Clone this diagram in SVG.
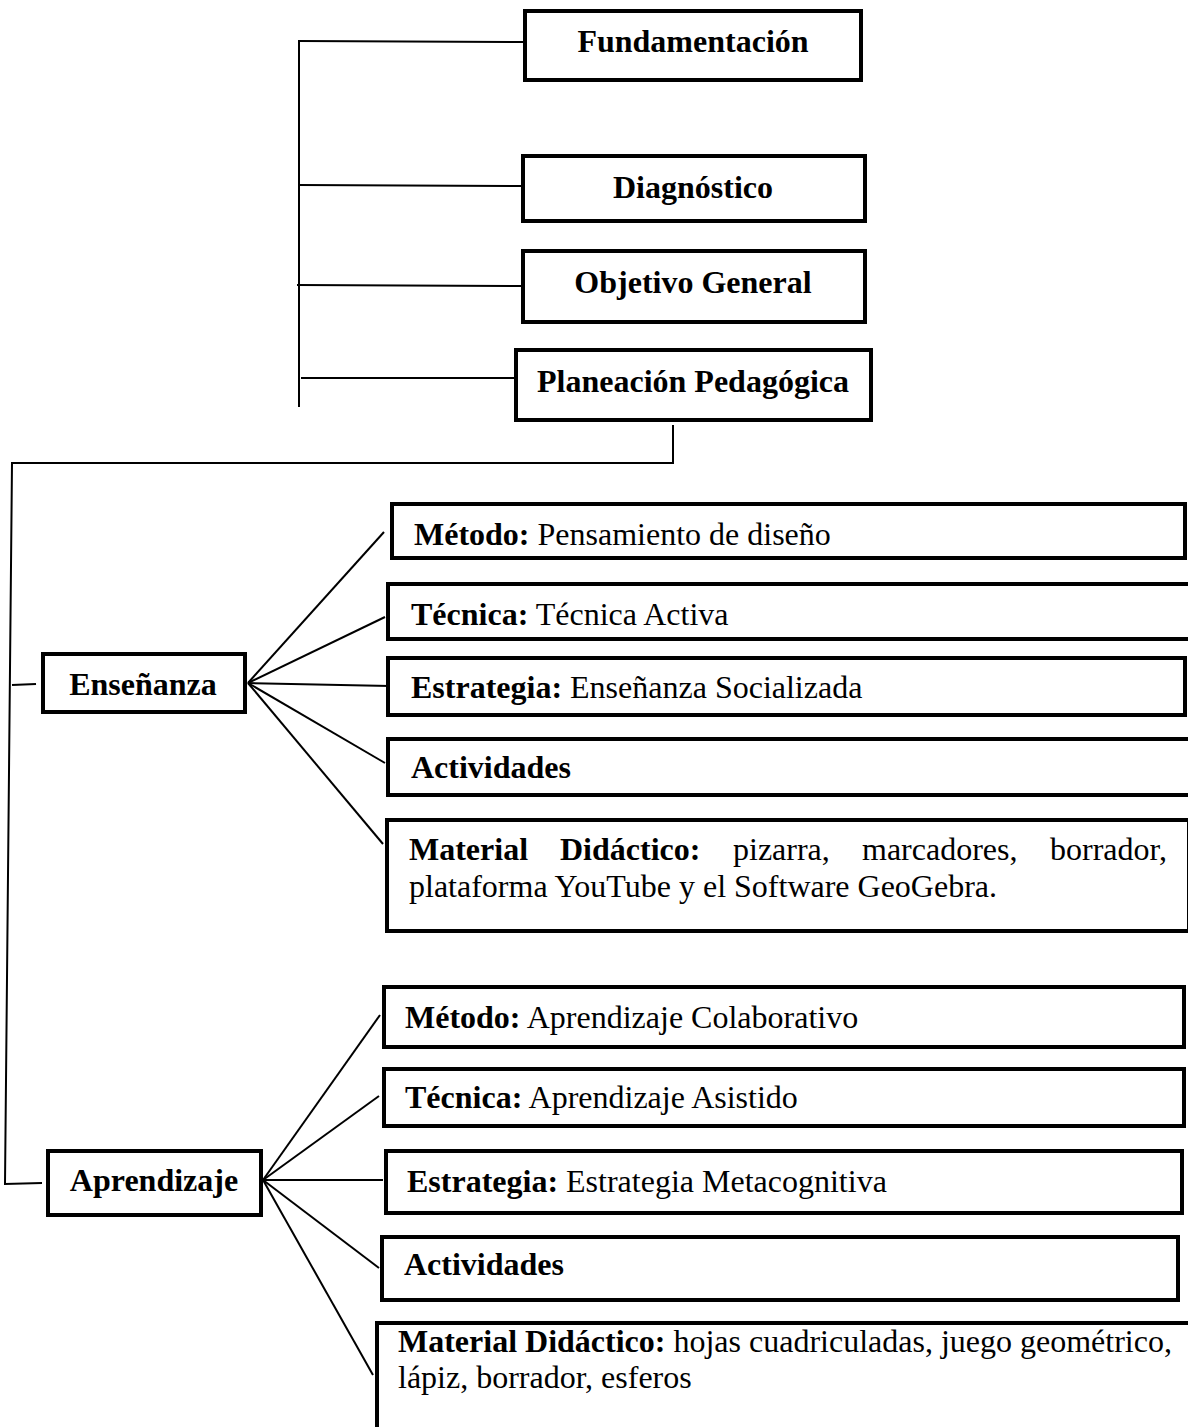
<svg xmlns="http://www.w3.org/2000/svg" width="1188" height="1427" viewBox="0 0 1188 1427">
<style>
.box{fill:#fff;stroke:#000;stroke-width:4}
.ln{fill:none;stroke:#000;stroke-width:2}
text{font-family:"Liberation Serif","Times New Roman",serif;font-size:32px;fill:#000}
.b{font-weight:bold}
.c{text-anchor:middle}
</style>
<rect width="1188" height="1427" fill="#fff"/>
<g id="connectors">
<line class="ln" x1="299" y1="40" x2="299" y2="407"/>
<line class="ln" x1="299" y1="41" x2="523" y2="42"/>
<line class="ln" x1="299" y1="185" x2="521" y2="186"/>
<line class="ln" x1="297" y1="285" x2="521" y2="286"/>
<line class="ln" x1="301" y1="378" x2="514" y2="378"/>
<line class="ln" x1="673" y1="425" x2="673" y2="462"/>
<polyline class="ln" points="674,463 12,463 5,1184 42,1183"/>
<line class="ln" x1="12" y1="685" x2="36" y2="684"/>
<g>
<line class="ln" x1="248" y1="683" x2="384" y2="532"/>
<line class="ln" x1="248" y1="683" x2="385" y2="617"/>
<line class="ln" x1="248" y1="683" x2="390" y2="686"/>
<line class="ln" x1="248" y1="683" x2="385" y2="763"/>
<line class="ln" x1="248" y1="683" x2="383" y2="844"/>
</g>
<g>
<line class="ln" x1="263" y1="1180" x2="380" y2="1015"/>
<line class="ln" x1="263" y1="1180" x2="379" y2="1096"/>
<line class="ln" x1="263" y1="1180" x2="383" y2="1180"/>
<line class="ln" x1="263" y1="1180" x2="379" y2="1268"/>
<line class="ln" x1="263" y1="1180" x2="373" y2="1375"/>
</g>
</g>
<g id="n-fundamentacion"><rect class="box" x="525" y="11" width="336" height="69"/><text class="b c" x="693" y="52">Fundamentación</text></g>
<g id="n-diagnostico"><rect class="box" x="523" y="156" width="342" height="65"/><text class="b c" x="693" y="198">Diagnóstico</text></g>
<g id="n-objetivo"><rect class="box" x="523" y="251" width="342" height="71"/><text class="b c" x="693" y="293">Objetivo General</text></g>
<g id="n-planeacion"><rect class="box" x="516" y="350" width="355" height="70"/><text class="b c" x="693" y="392">Planeación Pedagógica</text></g>
<g id="n-ensenanza"><rect class="box" x="43" y="654" width="202" height="58"/><text class="b c" x="143" y="695">Enseñanza</text></g>
<g id="n-aprendizaje"><rect class="box" x="48" y="1151" width="213" height="64"/><text class="b c" x="154" y="1191">Aprendizaje</text></g>
<g id="n-e-metodo"><rect class="box" x="392" y="504" width="793" height="54"/><text x="414" y="545"><tspan class="b">Método:</tspan> Pensamiento de diseño</text></g>
<g id="n-e-tecnica"><rect class="box" x="388" y="584" width="812" height="55"/><text x="411" y="625"><tspan class="b">Técnica:</tspan> Técnica Activa</text></g>
<g id="n-e-estrategia"><rect class="box" x="388" y="658" width="797" height="57"/><text x="411" y="698"><tspan class="b">Estrategia:</tspan> Enseñanza Socializada</text></g>
<g id="n-e-actividades"><rect class="box" x="388" y="739" width="812" height="56"/><text class="b" x="411" y="778">Actividades</text></g>
<g id="n-e-material"><rect class="box" x="387" y="820" width="802" height="111"/>
<text y="860"><tspan class="b" x="409">Material</tspan><tspan class="b" x="560">Didáctico:</tspan><tspan x="733">pizarra,</tspan><tspan x="862">marcadores,</tspan><tspan x="1050">borrador,</tspan></text>
<text x="409" y="897">plataforma YouTube y el Software GeoGebra.</text></g>
<g id="n-a-metodo"><rect class="box" x="384" y="987" width="800" height="60"/><text x="405" y="1028"><tspan class="b">Método:</tspan> Aprendizaje Colaborativo</text></g>
<g id="n-a-tecnica"><rect class="box" x="384" y="1069" width="800" height="57"/><text x="405" y="1108"><tspan class="b">Técnica:</tspan> Aprendizaje Asistido</text></g>
<g id="n-a-estrategia"><rect class="box" x="386" y="1151" width="796" height="62"/><text x="407" y="1192"><tspan class="b">Estrategia:</tspan> Estrategia Metacognitiva</text></g>
<g id="n-a-actividades"><rect class="box" x="382" y="1237" width="796" height="63"/><text class="b" x="404" y="1275">Actividades</text></g>
<g id="n-a-material"><rect class="box" x="377" y="1323" width="820" height="130"/>
<text x="398" y="1352"><tspan class="b">Material Didáctico:</tspan> hojas cuadriculadas, juego geométrico,</text>
<text x="398" y="1388">lápiz, borrador, esferos</text></g>
</svg>
